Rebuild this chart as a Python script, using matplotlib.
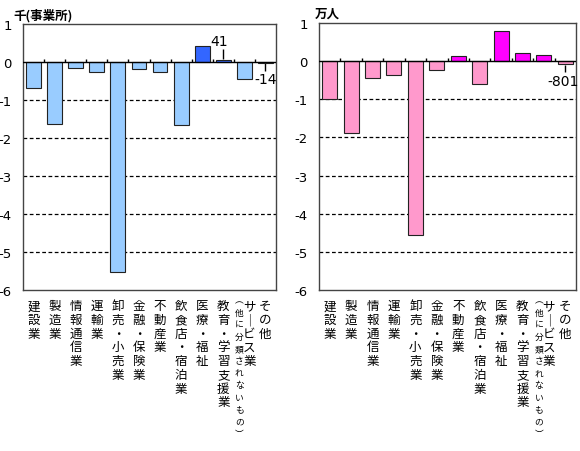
import numpy as np
import matplotlib
matplotlib.use("Agg")
import matplotlib.pyplot as plt
import matplotlib.transforms as mtransforms

plt.rcParams['font.family'] = ['Noto Sans CJK JP', 'DejaVu Sans']
plt.rcParams['axes.unicode_minus'] = False

# categories (vertical labels)
categories = ["建設業", "製造業", "情報通信業", "運輸業", "卸売・小売業",
              "金融・保険業", "不動産業", "飲食店・宿泊業", "医療・福祉",
              "教育・学習支援業", "サービス業", "その他"]
sub_note = "︵他に分類されないもの︶"

# changes: establishments (thousand), persons (10 thousand)
establishments = [-0.68, -1.64, -0.15, -0.26, -5.53, -0.19, -0.26, -1.67,
                  0.41, 0.041, -0.46, -0.014]
persons = [-0.98, -1.88, -0.44, -0.37, -4.55, -0.23, 0.14, -0.60,
           0.80, 0.22, 0.16, -0.0801]

yticks = [1, 0, -1, -2, -3, -4, -5, -6]

W, H = 580, 452
fig = plt.figure(figsize=(5.8, 4.52), dpi=100)


def px_axes(x0, y0, x1, y1):
    return fig.add_axes([x0 / W, 1 - y1 / H, (x1 - x0) / W, (y1 - y0) / H])


def vert(s):
    return "\n".join("｜" if c == "ー" else c for c in s)


def draw_panel(ax, vals, neg_col, pos_col):
    x = np.arange(len(vals))
    cols = [pos_col if v > 0 else neg_col for v in vals]
    ax.bar(x, vals, width=0.7, color=cols, edgecolor='#222222', linewidth=0.8, zorder=3)
    ax.set_xlim(-0.5, len(vals) - 0.5)
    ax.set_ylim(-6, 1)
    ax.set_yticks(yticks)
    ax.set_yticklabels([str(t) for t in yticks], fontsize=9.5, family='DejaVu Sans')
    ax.tick_params(axis='y', length=0, pad=8)
    ax.set_xticks([])
    for t in [-1, -2, -3, -4, -5]:
        ax.axhline(t, color='black', lw=0.9, ls=(0, (3, 2)), zorder=1)
    ax.axhline(0, color='black', lw=1.0, zorder=4)
    ax.vlines(x[1:] - 0.5, 0, 0.08, color='black', lw=1.0, zorder=4)
    for sp in ax.spines.values():
        sp.set_color('#444444')
        sp.set_linewidth(1.0)
    trans = mtransforms.blended_transform_factory(ax.transData, ax.transAxes)
    off = mtransforms.ScaledTranslation
    for i, lab in enumerate(categories):
        if lab == "サービス業":
            ax.text(i, -0.035, vert(lab), transform=trans + off(5 / 100, 0, fig.dpi_scale_trans),
                    ha='center', va='top', fontsize=9, linespacing=1.07)
            ax.text(i, -0.02, vert(sub_note), transform=trans + off(-5 / 100, 0, fig.dpi_scale_trans),
                    ha='center', va='top', fontsize=6.3, linespacing=1.45)
        else:
            ax.text(i, -0.035, vert(lab), transform=trans, ha='center', va='top',
                    fontsize=9, linespacing=1.07)


# left panel: establishments
ax1 = px_axes(23, 25, 276, 291)
draw_panel(ax1, establishments, '#99CCFF', '#3366FF')
fig.text(13 / W, 1 - 16 / H, "千(事業所)", fontsize=9, fontweight='bold', va='center', ha='left')
ax1.vlines(9, establishments[9] + 0.05, 0.35, color='black', lw=1)
ax1.text(9 - 0.2, 0.55, str(int(round(establishments[9] * 1000))), ha='center', va='center',
         fontsize=10, family='DejaVu Sans')
ax1.vlines(11, establishments[11] - 0.02, -0.23, color='black', lw=1)
ax1.text(11, -0.45, str(int(round(establishments[11] * 1000))), ha='center',
         va='center', fontsize=10, family='DejaVu Sans')

# right panel: persons
ax2 = px_axes(319, 24, 576, 291)
draw_panel(ax2, persons, '#FF99CC', '#FF00FF')
fig.text(315 / W, 1 - 14 / H, "万人", fontsize=9, fontweight='bold', va='center', ha='left')
ax2.vlines(11, persons[11] - 0.01, -0.28, color='black', lw=1)
ax2.text(11 - 0.1, -0.51, str(int(round(persons[11] * 10000))), ha='center',
         va='center', fontsize=10, family='DejaVu Sans')

fig.savefig("out.png", dpi=100)
